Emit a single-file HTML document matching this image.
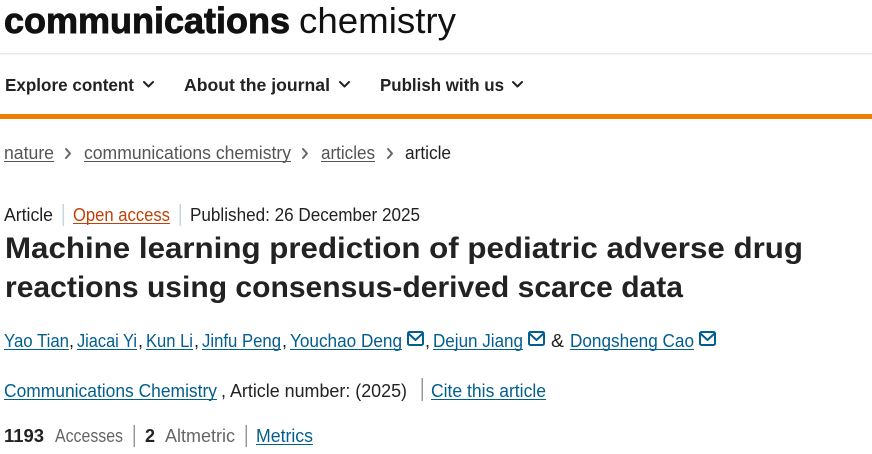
<!DOCTYPE html>
<html>
<head>
<meta charset="utf-8">
<style>
  html,body{margin:0;padding:0;background:#fff;}
  body{width:872px;height:454px;overflow:hidden;}
  svg{display:block;}
  text{font-family:"Liberation Sans", Arial, sans-serif;}
</style>
</head>
<body>
<svg width="872" height="454" viewBox="0 0 872 454" xmlns="http://www.w3.org/2000/svg">
  <rect x="0" y="0" width="872" height="454" fill="#fff"/>

  <!-- Logo -->
  <text x="4" y="33" font-size="36" font-weight="bold" fill="#111" stroke="#111" stroke-width="0.9" textLength="286" lengthAdjust="spacingAndGlyphs">communications</text>
  <text x="299" y="33" font-size="36" fill="#111" textLength="157" lengthAdjust="spacingAndGlyphs">chemistry</text>

  <!-- header divider -->
  <rect x="0" y="53" width="872" height="1.5" fill="#e8e8e8"/>

  <!-- Nav -->
  <g fill="#222" font-size="17.5" font-weight="bold">
    <text x="5" y="91" textLength="129" lengthAdjust="spacingAndGlyphs">Explore content</text>
    <text x="184" y="91" textLength="146" lengthAdjust="spacingAndGlyphs">About the journal</text>
    <text x="380" y="91" textLength="124" lengthAdjust="spacingAndGlyphs">Publish with us</text>
  </g>
  <g fill="none" stroke="#222" stroke-width="2" stroke-linecap="round" stroke-linejoin="round">
    <polyline points="144,82 148.5,86.5 153,82"/>
    <polyline points="340,82 344.5,86.5 349,82"/>
    <polyline points="513,82 517.5,86.5 522,82"/>
  </g>

  <!-- orange bar -->
  <rect x="0" y="114" width="872" height="5" fill="#f07d00"/>

  <!-- Breadcrumb -->
  <g font-size="18">
    <text x="4" y="159" fill="#555" textLength="50" lengthAdjust="spacingAndGlyphs">nature</text>
    <rect x="4" y="161" width="50" height="1" fill="#555"/>
    <text x="84" y="159" fill="#555" textLength="207" lengthAdjust="spacingAndGlyphs">communications chemistry</text>
    <rect x="84" y="161" width="207" height="1" fill="#555"/>
    <text x="321" y="159" fill="#555" textLength="54" lengthAdjust="spacingAndGlyphs">articles</text>
    <rect x="321" y="161" width="54" height="1" fill="#555"/>
    <text x="405" y="159" fill="#222" textLength="46" lengthAdjust="spacingAndGlyphs">article</text>
  </g>
  <g fill="none" stroke="#666" stroke-width="2" stroke-linecap="round" stroke-linejoin="round">
    <polyline points="66,149 70,153.5 66,158"/>
    <polyline points="303,149 307,153.5 303,158"/>
    <polyline points="388,149 392,153.5 388,158"/>
  </g>

  <!-- Article meta line -->
  <g font-size="18">
    <text x="4" y="221" fill="#222" textLength="49" lengthAdjust="spacingAndGlyphs">Article</text>
    <rect x="62.5" y="204" width="1.5" height="22" fill="#c9d6df"/>
    <text x="73" y="221" fill="#c0410a" textLength="97" lengthAdjust="spacingAndGlyphs">Open access</text>
    <rect x="73" y="223" width="97" height="1" fill="#c0410a"/>
    <rect x="179.5" y="204" width="1.5" height="22" fill="#c9d6df"/>
    <text x="190" y="221" fill="#222" textLength="230" lengthAdjust="spacingAndGlyphs">Published: 26 December 2025</text>
  </g>

  <!-- Title -->
  <g font-size="30" font-weight="bold" fill="#222">
    <text x="5" y="258" textLength="798" lengthAdjust="spacingAndGlyphs">Machine learning prediction of pediatric adverse drug</text>
    <text x="5" y="297" textLength="678" lengthAdjust="spacingAndGlyphs">reactions using consensus-derived scarce data</text>
  </g>

  <!-- Authors -->
  <g font-size="18" fill="#025e8d">
    <text x="4" y="347" textLength="65" lengthAdjust="spacingAndGlyphs">Yao Tian</text>
    <rect x="4" y="349" width="65" height="1"/>
    <text x="77" y="347" textLength="60" lengthAdjust="spacingAndGlyphs">Jiacai Yi</text>
    <rect x="77" y="349" width="60" height="1"/>
    <text x="146" y="347" textLength="47" lengthAdjust="spacingAndGlyphs">Kun Li</text>
    <rect x="146" y="349" width="47" height="1"/>
    <text x="202" y="347" textLength="79" lengthAdjust="spacingAndGlyphs">Jinfu Peng</text>
    <rect x="202" y="349" width="79" height="1"/>
    <text x="290" y="347" textLength="112" lengthAdjust="spacingAndGlyphs">Youchao Deng</text>
    <rect x="290" y="349" width="112" height="1"/>
    <text x="433" y="347" textLength="90" lengthAdjust="spacingAndGlyphs">Dejun Jiang</text>
    <rect x="433" y="349" width="90" height="1"/>
    <text x="570" y="347" textLength="124" lengthAdjust="spacingAndGlyphs">Dongsheng Cao</text>
    <rect x="570" y="349" width="124" height="1"/>
  </g>
  <g font-size="18" fill="#222">
    <text x="69" y="347">,</text>
    <text x="138" y="347">,</text>
    <text x="194" y="347">,</text>
    <text x="282" y="347">,</text>
    <text x="425" y="347">,</text>
    <text x="551" y="347" textLength="13" lengthAdjust="spacingAndGlyphs">&amp;</text>
  </g>
  <g fill="none" stroke="#025e8d" stroke-width="2" stroke-linejoin="round" stroke-linecap="round">
    <rect x="408" y="332" width="15" height="13" rx="1.5"/>
    <polyline points="409,334 415.5,340 422,334"/>
    <rect x="529" y="332" width="15" height="13" rx="1.5"/>
    <polyline points="530,334 536.5,340 543,334"/>
    <rect x="700" y="332" width="15" height="13" rx="1.5"/>
    <polyline points="701,334 707.5,340 714,334"/>
  </g>

  <!-- Journal line -->
  <g font-size="18">
    <text x="4" y="397" fill="#025e8d" textLength="213" lengthAdjust="spacingAndGlyphs">Communications Chemistry</text>
    <rect x="4" y="399" width="213" height="1" fill="#025e8d"/>
    <text x="221" y="397" fill="#222" textLength="186" lengthAdjust="spacingAndGlyphs">, Article number:  (2025)</text>
    <rect x="421.5" y="378" width="1.5" height="23" fill="#999"/>
    <text x="431" y="397" fill="#025e8d" textLength="115" lengthAdjust="spacingAndGlyphs">Cite this article</text>
    <rect x="431" y="399" width="115" height="1" fill="#025e8d"/>
  </g>

  <!-- Metrics line -->
  <g font-size="18">
    <text x="4" y="442" fill="#222" font-weight="bold" textLength="40" lengthAdjust="spacingAndGlyphs">1193</text>
    <text x="55" y="442" fill="#666" textLength="68" lengthAdjust="spacingAndGlyphs">Accesses</text>
    <rect x="133.5" y="425" width="1.5" height="22" fill="#999"/>
    <text x="145" y="442" fill="#222" font-weight="bold" textLength="10" lengthAdjust="spacingAndGlyphs">2</text>
    <text x="165" y="442" fill="#666" textLength="70" lengthAdjust="spacingAndGlyphs">Altmetric</text>
    <rect x="245.5" y="425" width="1.5" height="22" fill="#999"/>
    <text x="256" y="442" fill="#025e8d" textLength="57" lengthAdjust="spacingAndGlyphs">Metrics</text>
    <rect x="256" y="444" width="57" height="1" fill="#025e8d"/>
  </g>
</svg>
</body>
</html>
